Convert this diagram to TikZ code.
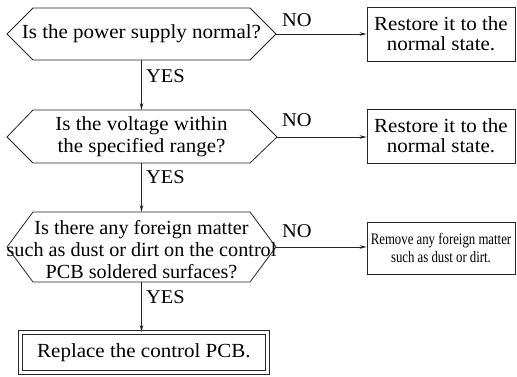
\documentclass[tikz,border=0pt]{standalone}
\usepackage{fontspec}
\setmainfont{Liberation Serif}[FakeStretch=1.05]
\newfontfamily\narrowfont{Liberation Serif}[FakeStretch=0.8]
\newfontfamily\qthreefont{Liberation Serif}[FakeStretch=1.01]
\usetikzlibrary{arrows.meta}
\begin{document}
\begin{tikzpicture}[x=1pt,y=-1pt,
  ln/.style={draw=black!85, line width=0.8pt},
  qtext/.style={inner sep=0pt, align=center, font=\fontsize{20}{22}\selectfont},
  abox/.style={ln, minimum width=148pt, inner sep=0pt, align=center, font=\fontsize{20}{20}\selectfont},
  lbl/.style={inner sep=0pt, font=\fontsize{19.5}{22}\selectfont},
  arr/.style={ln, -{Stealth[length=7pt,width=3.5pt]}}]
\useasboundingbox (0,0) rectangle (517,376);

% question 1
\draw[ln] (7,34) -- (33,8) -- (250,8) -- (276,34) -- (250,60) -- (33,60) -- cycle;
\node[qtext] (q1) at (141.5,34) {Is the power supply normal?};
\coordinate (q1t) at (141.5,8);
\coordinate (q1b) at (141.5,60);
\coordinate (q1r) at (276,34);

% question 2
\draw[ln] (7,137) -- (33,110) -- (250,110) -- (277,137) -- (250,163) -- (33,163) -- cycle;
\node[qtext] (q2) at (141.5,136.5) {Is the voltage within\\the specified range?};
\coordinate (q2t) at (141.5,110);
\coordinate (q2b) at (141.5,163);
\coordinate (q2r) at (277,137);

% question 3
\draw[ln] (7,247) -- (33,212) -- (250,212) -- (276,247) -- (250,282) -- (33,282) -- cycle;
\node[qtext, font=\qthreefont\fontsize{20}{22}\selectfont] (q3) at (141.5,250) {Is there any foreign matter\\such as dust or dirt on the control\\PCB soldered surfaces?};
\coordinate (q3t) at (141.5,212);
\coordinate (q3b) at (141.5,282);
\coordinate (q3r) at (276,247);

% answer boxes
\node[abox, minimum height=54pt] (r1) at (441,34) {Restore it to the\\normal state.};
\node[abox, minimum height=54pt] (r2) at (441,136) {Restore it to the\\normal state.};
\node[abox, minimum height=52pt, font=\narrowfont\fontsize{16}{18}\selectfont] (r3) at (441,248) {Remove any foreign matter\\such as dust or dirt.};

% final box
\node[draw=black!85, line width=0.8pt, double, double distance=3.2pt, minimum width=247.5pt, minimum height=40.5pt, inner sep=0pt, font=\fontsize{20}{22}\selectfont] (fin) at (143.9,352.6) {Replace the control PCB.};

% connectors
\draw[arr] (q1b) -- (q2t);
\draw[arr] (q2b) -- (q3t);
\draw[arr] (q3b) -- (q3b |- fin.north);
\draw[arr] (q1r) -- (q1r -| r1.west);
\draw[arr] (q2r) -- (q2r -| r2.west);
\draw[arr] (q3r) -- (q3r -| r3.west);

% labels
\node[lbl, anchor=west] (y1) at (146,76) {YES};
\node[lbl, anchor=west] (y2) at (146,177.5) {YES};
\node[lbl, anchor=west] (y3) at (146,297.5) {YES};
\node[lbl, anchor=west] (n1) at (282,20.5) {NO};
\node[lbl, anchor=west] (n2) at (282,120) {NO};
\node[lbl, anchor=west] (n3) at (282,231) {NO};
\end{tikzpicture}
\end{document}
